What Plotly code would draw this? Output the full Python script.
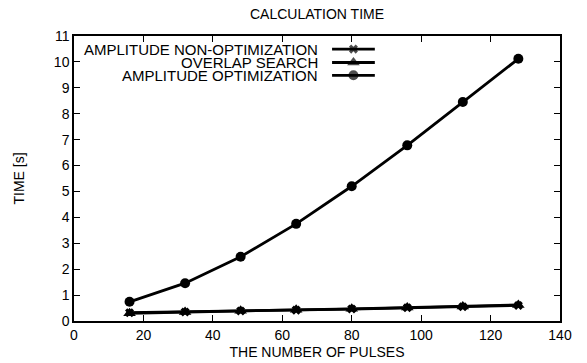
import plotly.graph_objects as go

pulses = [16, 32, 48, 64, 80, 96, 112, 128]
amp_non_opt = [0.32, 0.35, 0.39, 0.42, 0.46, 0.51, 0.55, 0.60]
overlap_search = [0.30, 0.35, 0.40, 0.43, 0.47, 0.52, 0.56, 0.62]
amp_opt = [0.74, 1.46, 2.48, 3.75, 5.20, 6.78, 8.45, 10.12]

series_names = ["AMPLITUDE NON-OPTIMIZATION", "OVERLAP SEARCH", "AMPLITUDE OPTIMIZATION"]
series_values = [amp_non_opt, overlap_search, amp_opt]
series_symbols = ["x", "triangle-up", "circle"]
series_sizes = [8, 11, 10]

FONT = "Liberation Sans, Arial, sans-serif"
fig = go.Figure()

for name, vals, sym, sz in zip(series_names, series_values, series_symbols, series_sizes):
    fig.add_trace(go.Scatter(
        x=pulses, y=vals, mode="lines+markers", name=name,
        line=dict(color="black", width=2.8),
        marker=dict(symbol=sym, size=sz, color="black", line=dict(width=0)),
        showlegend=False,
    ))

# custom legend (text right-aligned, sample on right) on an overlay axis
leg_rows = [0.954, 0.907, 0.862]
for name, sym, sz, ry in zip(series_names, series_symbols, series_sizes, leg_rows):
    fig.add_trace(go.Scatter(
        x=[0.531, 0.575, 0.619], y=[ry, ry, ry], xaxis="x2", yaxis="y2",
        mode="lines+markers", line=dict(color="black", width=2.8),
        marker=dict(symbol=sym, size=[0, sz, 0], color="black", line=dict(width=0)),
        showlegend=False, hoverinfo="skip",
    ))
    fig.add_annotation(x=0.506, y=ry, xref="x2", yref="y2", text=name,
                       showarrow=False, xanchor="right", yanchor="middle",
                       font=dict(family=FONT, size=15, color="black"))

axis_common = dict(
    showline=True, linecolor="black", linewidth=1.5, mirror="ticks",
    ticks="inside", ticklen=6, tickcolor="black", tickwidth=1,
    showgrid=False, zeroline=False, automargin=False,
    tickfont=dict(family=FONT, size=14, color="black"),
)

fig.update_layout(
    width=587, height=363,
    margin=dict(l=74, r=27, t=36, b=42),
    plot_bgcolor="white", paper_bgcolor="white",
    title=dict(text="CALCULATION TIME", x=0.5, xref="paper", xanchor="center",
               y=0.961, yanchor="middle", font=dict(family=FONT, size=14, color="black")),
    xaxis=dict(axis_common, range=[0, 140], dtick=20,
               title=dict(text="THE NUMBER OF PULSES", standoff=6,
                          font=dict(family=FONT, size=14, color="black"))),
    yaxis=dict(axis_common, range=[0, 11], dtick=1,
               title=dict(text="TIME [s]", standoff=26,
                          font=dict(family=FONT, size=14, color="black"))),
    xaxis2=dict(range=[0, 1], overlaying="x", visible=False, fixedrange=True),
    yaxis2=dict(range=[0, 1], overlaying="y", visible=False, fixedrange=True),
    showlegend=False,
)

fig.write_html("out.html", config={"displayModeBar": False},
               post_script="document.body.style.margin='0';")
